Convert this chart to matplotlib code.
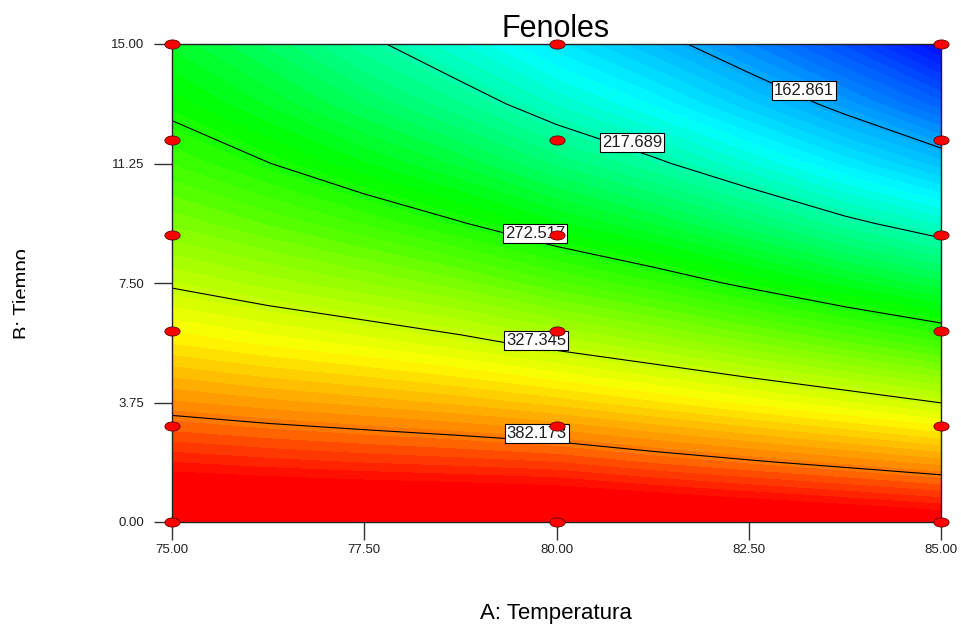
import numpy as np
import matplotlib.pyplot as plt
from matplotlib.colors import LinearSegmentedColormap, Normalize
from matplotlib.path import Path
from matplotlib.transforms import Affine2D, Bbox, TransformedBbox, offset_copy

plt.rcParams['font.family'] = ['Liberation Sans', 'DejaVu Sans']

# response on a grid (rows = tiempo, cols = temperatura)
temp = [75.0, 76.25, 77.5, 78.75, 80.0, 81.25, 82.5, 83.75, 85.0]
tiempo = [0.0, 1.875, 3.75, 5.625, 7.5, 9.375, 11.25, 13.125, 15.0]
fenoles = [
    [436.4, 435.6, 434.8, 434.2, 433.4, 430.1, 426.8, 423.3, 418.9],
    [404.9, 402.0, 399.5, 397.5, 394.9, 389.2, 383.8, 378.3, 372.4],
    [375.9, 371.5, 367.7, 363.3, 357.6, 350.7, 343.3, 335.7, 327.1],
    [349.3, 343.4, 337.9, 331.3, 322.9, 314.6, 305.2, 295.4, 285.5],
    [325.3, 317.6, 310.1, 301.7, 290.7, 280.9, 269.4, 257.4, 246.2],
    [303.6, 294.1, 284.2, 273.3, 261.0, 249.6, 236.1, 221.7, 208.5],
    [284.5, 272.9, 260.4, 248.3, 233.8, 220.7, 205.1, 188.4, 172.0],
    [267.8, 254.1, 239.5, 225.4, 209.1, 194.2, 176.5, 157.4, 136.7],
    [253.5, 238.5, 221.5, 205.0, 186.8, 170.0, 150.3, 128.7, 102.8],
]

# contour levels and where their labels sit
levels = [162.861, 217.689, 272.517, 327.345, 382.173]
label_pos = [(83.25, 13.48), (81.0, 11.83), (79.75, 9.1), (79.75, 5.74), (79.75, 2.82)]

# design points
pts_temp = [75] * 6 + [80] * 6 + [85] * 6
pts_tiempo = [0, 3, 6, 9, 12, 15] * 3

xticks = [75.0, 77.5, 80.0, 82.5, 85.0]
yticks = [0.0, 3.75, 7.5, 11.25, 15.0]

# blue -> cyan -> green -> yellow -> red, like Design-Expert
cmap = LinearSegmentedColormap.from_list('de', [
    (0.0, '#0000ff'), (0.304, '#00ffff'), (0.529, '#00ff00'),
    (0.785, '#ffff00'), (0.9, '#ff8000'), (1.0, '#ff0000')])
norm = Normalize(100, 412)

fig = plt.figure(figsize=(9.62, 6.25), dpi=100)
ax = fig.add_axes([172 / 962, 103 / 625, 769 / 962, 478 / 625])

ax.contourf(temp, tiempo, fenoles, levels=np.arange(95, 445, 5), cmap=cmap, norm=norm)
cs = ax.contour(temp, tiempo, fenoles, levels=levels, colors='black', linewidths=0.8)
labels = ax.clabel(cs, fmt='%.3f', fontsize=12, inline=False, manual=label_pos, colors='#202020')
for t in labels:
    t.set_rotation(0)
    t.set_zorder(4)
    t.set_transform(offset_copy(t.get_transform(), fig=fig, x=0, y=7, units='dots'))
    t.set_bbox(dict(boxstyle='square,pad=0.12', facecolor='white', edgecolor='black', linewidth=0.8))

ell = Path.unit_circle().transformed(Affine2D().scale(1, 0.6))
ax.scatter(pts_temp, pts_tiempo, marker=ell, s=120, c='#ff0000', edgecolors='#600000',
           linewidths=0.6, zorder=5, clip_on=False)

ax.set_xlim(75, 85)
ax.set_ylim(0, 15)
ax.set_xticks(xticks)
ax.set_yticks(yticks)
ax.set_xticklabels([f'{v:.2f}' for v in xticks])
ax.set_yticklabels([f'{v:.2f}' for v in yticks])
ax.tick_params(direction='out', length=13, width=1, color='#333333', labelsize=9.5, labelcolor='#202020')
ax.tick_params(axis='y', pad=7)
ax.tick_params(axis='x', pad=3)
for s in ax.spines.values():
    s.set_color('#222222')
    s.set_linewidth(1.0)

fig.text(0.578, 0.954, 'Fenoles', fontsize=22, ha='center', va='center')
fig.text(0.578, 0.0192, 'A: Temperatura', fontsize=16, ha='center', va='center')

# y label is cut off by the left edge in the original
yl = fig.text(13 / 962, 0.5296, 'B: Tiempo', rotation=90, fontsize=14.5, ha='left', va='center')
yl.set_clip_on(True)
yl.set_clip_box(TransformedBbox(Bbox([[0, 0], [25 / 962, 1]]), fig.transFigure))

fig.savefig('out.png', dpi=100)
